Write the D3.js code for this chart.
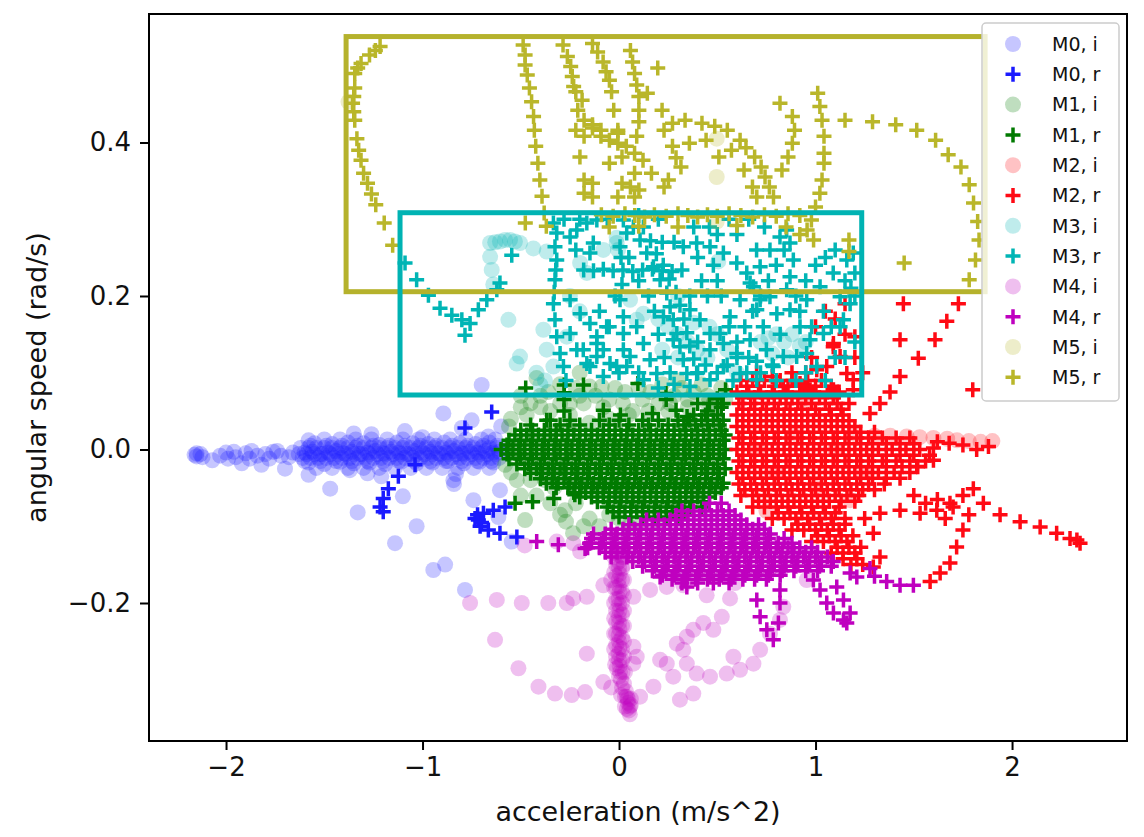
<!DOCTYPE html>
<meta charset="utf-8">
<title>angular speed vs acceleration</title>
<style>
body { margin: 0; background: #fff; }
text { font-family: "DejaVu Sans", sans-serif; fill: #111; }
</style>
<svg width="1144" height="837"></svg>
<script src="https://cdn.jsdelivr.net/npm/d3@7/dist/d3.min.js"></script>
<script>

// ---- data ----
var xTicks = [-2, -1, 0, 1, 2];
var yTicks = [-0.2, 0.0, 0.2, 0.4];
var seriesNames = ["M0, i", "M0, r", "M1, i", "M1, r", "M2, i", "M2, r", "M3, i", "M3, r", "M4, i", "M4, r", "M5, i", "M5, r"];

var m0i = [[-2.16,-0.007],[-2.15,-0.009],[-2.13,-0.006],[-2.07,-0.014],[-2.0,-0.004],[-1.99,-0.012],[-1.96,-0.003],[-1.92,-0.018],[-1.9,-0.005],[-1.87,-0.002],[-1.82,-0.02],[-1.8,-0.006],[-1.76,-0.003],[-1.72,-0.008],[-1.7,-0.025],[-1.66,-0.004],[-1.63,-0.006],
  [-1.60,-0.004],[-1.56,-0.003],[-1.52,-0.006],[-1.48,-0.004],[-1.44,-0.002],[-1.40,-0.005],[-1.36,-0.003],[-1.32,-0.006],[-1.28,-0.004],[-1.24,-0.002],[-1.20,-0.005],[-1.16,-0.003],[-1.12,-0.004],[-1.08,-0.006],[-1.04,-0.002],[-1.00,-0.004],[-0.96,-0.003],[-0.92,-0.005],[-0.88,-0.004],[-0.84,-0.002],[-0.80,-0.005],[-0.76,-0.003],[-0.72,-0.004],[-0.68,-0.002],[-0.64,-0.004],[-0.61,-0.003],
  [-1.58,-0.017],[-1.50,-0.019],[-1.42,-0.016],[-1.35,-0.018],[-1.27,-0.017],[-1.19,-0.019],[-1.11,-0.016],[-1.03,-0.018],[-0.95,-0.017],[-0.87,-0.015],[-0.79,-0.018],[-0.71,-0.016],[-0.64,-0.017],
  [-1.55,0.008],[-1.46,0.007],[-1.38,0.009],[-1.30,0.008],[-1.22,0.006],[-1.13,0.009],[-1.05,0.008],[-0.97,0.007],[-0.89,0.009],[-0.81,0.008],[-0.73,0.007],[-0.66,0.009],
  [-1.58,0.012],[-1.35,0.021],[-1.26,0.02],[-1.09,0.024],[-1.0,0.016],[-0.894,0.047],[-0.75,0.038],[-0.699,0.084],[-0.665,0.017],[-0.8,0.028],[-0.6,0.03],
  [-1.58,-0.033],[-1.47,-0.051],[-1.33,-0.082],[-1.14,-0.122],[-1.10,-0.061],[-1.03,-0.10],[-0.945,-0.157],[-0.885,-0.150],[-0.784,-0.183],[-0.606,-0.053],[-0.741,-0.066],[-0.843,-0.04],[-0.83,-0.032],[-0.546,-0.12],[-0.614,-0.088],[-1.37,-0.027],[-1.28,-0.031],[-1.21,-0.035],[-0.84,-0.045]];

var m0iBand = [[-1.62,0.002],[-1.58,0.002],[-1.54,0.002],[-1.50,0.002],[-1.46,0.002],[-1.42,0.002],[-1.38,0.002],[-1.34,0.002],[-1.30,0.002],[-1.26,0.002],[-1.22,0.002],[-1.18,0.002],[-1.14,0.002],[-1.10,0.002],[-1.06,0.002],[-1.02,0.002],[-0.98,0.002],[-0.94,0.002],[-0.90,0.002],[-0.86,0.002],[-0.82,0.002],[-0.78,0.002],[-0.74,0.002],[-0.70,0.002],[-0.66,0.002],[-0.62,0.002],
  [-1.61,-0.011],[-1.57,-0.011],[-1.53,-0.011],[-1.49,-0.011],[-1.45,-0.011],[-1.41,-0.011],[-1.37,-0.011],[-1.33,-0.011],[-1.29,-0.011],[-1.25,-0.011],[-1.21,-0.011],[-1.17,-0.011],[-1.13,-0.011],[-1.09,-0.011],[-1.05,-0.011],[-1.01,-0.011],[-0.97,-0.011],[-0.93,-0.011],[-0.89,-0.011],[-0.85,-0.011],[-0.81,-0.011],[-0.77,-0.011],[-0.73,-0.011],[-0.69,-0.011],[-0.65,-0.011],[-0.61,-0.011],
  [-1.54,-0.024],[-1.46,-0.024],[-1.38,-0.024],[-1.30,-0.024],[-1.22,-0.024],[-1.14,-0.024],[-1.06,-0.024],[-0.98,-0.024],[-0.90,-0.024],[-0.82,-0.024],[-0.74,-0.024],[-0.66,-0.024],
  [-1.50,0.013],[-1.42,0.013],[-1.34,0.013],[-1.26,0.013],[-1.18,0.013],[-1.10,0.013],[-1.02,0.013],[-0.94,0.013],[-0.86,0.013],[-0.78,0.013],[-0.70,0.013],[-0.63,0.013],
  [-2.15,-0.005],[-2.12,-0.01],[-2.03,-0.008],[-1.95,-0.01],[-1.88,-0.012],[-1.84,-0.008],[-1.78,-0.012],[-1.74,-0.002],[-1.68,-0.01],
  [-1.59,-0.006],[-1.55,-0.006],[-1.51,-0.006],[-1.47,-0.006],[-1.43,-0.006],[-1.39,-0.006],[-1.35,-0.006],[-1.31,-0.006],[-1.27,-0.006],[-1.23,-0.006],[-1.19,-0.006],[-1.15,-0.006],[-1.11,-0.006],[-1.07,-0.006],[-1.03,-0.006],[-0.99,-0.006],[-0.95,-0.006],[-0.91,-0.006],[-0.87,-0.006],[-0.83,-0.006],[-0.79,-0.006],[-0.75,-0.006],[-0.71,-0.006],[-0.67,-0.006],[-0.63,-0.006],
  [-1.60,-0.015],[-1.52,-0.015],[-1.44,-0.015],[-1.36,-0.015],[-1.28,-0.015],[-1.20,-0.015],[-1.12,-0.015],[-1.04,-0.015],[-0.96,-0.015],[-0.88,-0.015],[-0.80,-0.015],[-0.72,-0.015],[-0.65,-0.015],
  [-1.57,0.005],[-1.49,0.005],[-1.41,0.005],[-1.33,0.005],[-1.25,0.005],[-1.17,0.005],[-1.09,0.005],[-1.01,0.005],[-0.93,0.005],[-0.85,0.005],[-0.77,0.005],[-0.69,0.005],[-0.62,0.005]];

var m0r = [[-0.648,0.049],[-0.784,0.028],[-1.038,-0.020],[-1.123,-0.035],[-1.174,-0.051],[-1.20,-0.064],[-1.216,-0.075],[-1.20,-0.081],[-0.716,-0.092],[-0.69,-0.083],[-0.64,-0.079],[-0.58,-0.075],[-0.707,-0.10],[-0.665,-0.105],[-0.606,-0.109],[-0.52,-0.114],[-0.733,-0.09],[-0.72,-0.085],[-0.7,-0.095]];

var m1i = [[-0.55,0.005],[-0.5,-0.01],[-0.45,0.015],[-0.4,-0.02],[-0.35,0.02],[-0.3,-0.03],[-0.25,0.03],[-0.2,-0.04],[-0.15,0.035],[-0.1,-0.05],[-0.05,0.04],[0.0,-0.06],[0.05,0.045],[0.1,-0.07],[0.15,0.05],[0.2,-0.08],[0.25,0.05],[0.3,-0.07],[0.35,0.055],[0.4,-0.06],[0.45,0.06],[0.5,-0.05],
  [-0.5,0.07],[-0.42,0.093],[-0.36,0.075],[-0.3,0.085],[-0.25,0.06],[-0.2,0.07],[-0.15,0.082],[-0.088,0.082],[-0.05,0.065],[0.03,0.075],[0.1,0.08],[0.2,0.06],[0.28,0.07],[0.35,0.065],[0.45,0.07],[0.52,0.08],
  [-0.45,-0.04],[-0.377,-0.04],[-0.478,-0.092],[-0.275,-0.079],[-0.27,-0.094],[-0.234,-0.109],[-0.15,-0.09],[-0.1,-0.1],[0.0,-0.09],[0.1,-0.095],[-0.33,-0.05],[-0.52,-0.04],[-0.56,0.03],[-0.47,0.045],[-0.4,0.055],[-0.2,0.1],[0.3,0.09],
  [-0.55,0.04],[-0.5,0.055],[-0.45,0.06],[-0.4,0.07],[-0.35,0.05],[-0.3,0.06],[-0.25,0.045],[-0.22,0.08],[-0.18,0.06],[-0.12,0.07],[-0.08,0.055],[-0.02,0.08],[0.02,0.06],[0.07,0.05],[0.12,0.065],[0.16,0.075],[0.22,0.085],[0.26,0.06],[0.32,0.08],[0.38,0.075],[0.42,0.085],[0.48,0.06],[0.54,0.065],
  [-0.58,-0.02],[-0.55,-0.03],[-0.5,-0.06],[-0.42,-0.06],[-0.35,-0.07],[-0.3,-0.085],[-0.22,-0.07],[-0.18,-0.1],[-0.05,-0.085],[0.05,-0.1],[0.2,-0.095]];

var m1r = [
  [-0.50,0.025],[-0.44,0.025],[-0.38,0.025],[-0.32,0.025],[-0.26,0.025],[-0.20,0.025],[-0.14,0.025],[-0.08,0.025],[-0.02,0.025],[0.04,0.025],[0.10,0.025],[0.16,0.025],[0.22,0.025],[0.28,0.025],[0.34,0.025],[0.40,0.025],[0.46,0.025],[0.52,0.025],
  [-0.56,0.012],[-0.50,0.012],[-0.44,0.012],[-0.38,0.012],[-0.32,0.012],[-0.26,0.012],[-0.20,0.012],[-0.14,0.012],[-0.08,0.012],[-0.02,0.012],[0.04,0.012],[0.10,0.012],[0.16,0.012],[0.22,0.012],[0.28,0.012],[0.34,0.012],[0.40,0.012],[0.46,0.012],[0.53,0.012],
  [-0.60,0.0],[-0.54,0.0],[-0.48,0.0],[-0.42,0.0],[-0.36,0.0],[-0.30,0.0],[-0.24,0.0],[-0.18,0.0],[-0.12,0.0],[-0.06,0.0],[0.0,0.0],[0.06,0.0],[0.12,0.0],[0.18,0.0],[0.24,0.0],[0.30,0.0],[0.36,0.0],[0.42,0.0],[0.48,0.0],[0.54,0.0],
  [-0.56,-0.012],[-0.50,-0.012],[-0.44,-0.012],[-0.38,-0.012],[-0.32,-0.012],[-0.26,-0.012],[-0.20,-0.012],[-0.14,-0.012],[-0.08,-0.012],[-0.02,-0.012],[0.04,-0.012],[0.10,-0.012],[0.16,-0.012],[0.22,-0.012],[0.28,-0.012],[0.34,-0.012],[0.40,-0.012],[0.46,-0.012],[0.53,-0.012],
  [-0.48,-0.025],[-0.42,-0.025],[-0.36,-0.025],[-0.30,-0.025],[-0.24,-0.025],[-0.18,-0.025],[-0.12,-0.025],[-0.06,-0.025],[0.0,-0.025],[0.06,-0.025],[0.12,-0.025],[0.18,-0.025],[0.24,-0.025],[0.30,-0.025],[0.36,-0.025],[0.42,-0.025],[0.48,-0.025],[0.54,-0.025],
  [-0.40,-0.038],[-0.34,-0.038],[-0.28,-0.038],[-0.22,-0.038],[-0.16,-0.038],[-0.10,-0.038],[-0.04,-0.038],[0.02,-0.038],[0.08,-0.038],[0.14,-0.038],[0.20,-0.038],[0.26,-0.038],[0.32,-0.038],[0.38,-0.038],[0.44,-0.038],[0.50,-0.038],
  [-0.32,-0.05],[-0.26,-0.05],[-0.20,-0.05],[-0.14,-0.05],[-0.08,-0.05],[-0.02,-0.05],[0.04,-0.05],[0.10,-0.05],[0.16,-0.05],[0.22,-0.05],[0.28,-0.05],[0.34,-0.05],[0.40,-0.05],[0.46,-0.05],[0.52,-0.05],
  [-0.20,-0.062],[-0.14,-0.062],[-0.08,-0.062],[-0.02,-0.062],[0.04,-0.062],[0.10,-0.062],[0.16,-0.062],[0.22,-0.062],[0.28,-0.062],[0.34,-0.062],[0.40,-0.062],[0.46,-0.062],
  [-0.06,-0.075],[0.0,-0.075],[0.06,-0.075],[0.12,-0.075],[0.18,-0.075],[0.24,-0.075],[0.30,-0.075],[0.36,-0.075],[0.42,-0.075],
  [0.0,-0.088],[0.06,-0.088],[0.12,-0.088],[0.18,-0.088],[0.24,-0.088],[0.30,-0.088],
  [-0.35,0.038],[-0.25,0.038],[-0.1,0.038],[0.0,0.038],[0.12,0.038],[0.2,0.038],[0.3,0.038],[0.36,0.038],[0.42,0.038],[0.48,0.038],[0.53,0.038],
  [-0.28,0.05],[-0.08,0.051],[0.17,0.047],[0.29,0.051],[0.45,0.05],[0.52,0.055],[-0.28,0.065],[0.24,0.065],[0.5,0.066],
  [-0.475,0.08],[-0.279,0.084],[-0.181,0.084],[-0.279,0.074],[-0.368,0.038],[0.007,0.045],[0.096,0.086],[0.239,0.073],[0.346,0.043],[0.542,0.078],
  [-0.529,-0.07],[-0.44,-0.068],[-0.332,-0.064],[-0.225,-0.059]];

var m1rFill = [
  [-0.53,0.019],[-0.47,0.019],[-0.41,0.019],[-0.35,0.019],[-0.29,0.019],[-0.23,0.019],[-0.17,0.019],[-0.11,0.019],[-0.05,0.019],[0.01,0.019],[0.07,0.019],[0.13,0.019],[0.19,0.019],[0.25,0.019],[0.31,0.019],[0.37,0.019],[0.43,0.019],[0.49,0.019],[0.54,0.019],
  [-0.57,0.006],[-0.51,0.006],[-0.45,0.006],[-0.39,0.006],[-0.33,0.006],[-0.27,0.006],[-0.21,0.006],[-0.15,0.006],[-0.09,0.006],[-0.03,0.006],[0.03,0.006],[0.09,0.006],[0.15,0.006],[0.21,0.006],[0.27,0.006],[0.33,0.006],[0.39,0.006],[0.45,0.006],[0.51,0.006],
  [-0.57,-0.006],[-0.51,-0.006],[-0.45,-0.006],[-0.39,-0.006],[-0.33,-0.006],[-0.27,-0.006],[-0.21,-0.006],[-0.15,-0.006],[-0.09,-0.006],[-0.03,-0.006],[0.03,-0.006],[0.09,-0.006],[0.15,-0.006],[0.21,-0.006],[0.27,-0.006],[0.33,-0.006],[0.39,-0.006],[0.45,-0.006],[0.51,-0.006],
  [-0.52,-0.019],[-0.46,-0.019],[-0.40,-0.019],[-0.34,-0.019],[-0.28,-0.019],[-0.22,-0.019],[-0.16,-0.019],[-0.10,-0.019],[-0.04,-0.019],[0.02,-0.019],[0.08,-0.019],[0.14,-0.019],[0.20,-0.019],[0.26,-0.019],[0.32,-0.019],[0.38,-0.019],[0.44,-0.019],[0.50,-0.019],
  [-0.45,-0.031],[-0.39,-0.031],[-0.33,-0.031],[-0.27,-0.031],[-0.21,-0.031],[-0.15,-0.031],[-0.09,-0.031],[-0.03,-0.031],[0.03,-0.031],[0.09,-0.031],[0.15,-0.031],[0.21,-0.031],[0.27,-0.031],[0.33,-0.031],[0.39,-0.031],[0.45,-0.031],[0.51,-0.031],
  [-0.37,-0.044],[-0.31,-0.044],[-0.25,-0.044],[-0.19,-0.044],[-0.13,-0.044],[-0.07,-0.044],[-0.01,-0.044],[0.05,-0.044],[0.11,-0.044],[0.17,-0.044],[0.23,-0.044],[0.29,-0.044],[0.35,-0.044],[0.41,-0.044],[0.47,-0.044],[0.53,-0.044],
  [-0.23,-0.056],[-0.17,-0.056],[-0.11,-0.056],[-0.05,-0.056],[0.01,-0.056],[0.07,-0.056],[0.13,-0.056],[0.19,-0.056],[0.25,-0.056],[0.31,-0.056],[0.37,-0.056],[0.43,-0.056],[0.49,-0.056],
  [-0.11,-0.068],[-0.05,-0.068],[0.01,-0.068],[0.07,-0.068],[0.13,-0.068],[0.19,-0.068],[0.25,-0.068],[0.31,-0.068],[0.37,-0.068],[0.43,-0.068],
  [-0.03,-0.081],[0.03,-0.081],[0.09,-0.081],[0.15,-0.081],[0.21,-0.081],[0.27,-0.081],[0.33,-0.081],
  [-0.45,0.032],[-0.3,0.032],[-0.2,0.032],[-0.05,0.032],[0.05,0.032],[0.15,0.032],[0.25,0.032],[0.33,0.032],[0.39,0.032],[0.45,0.032],[0.51,0.032],
  [0.38,0.045],[0.44,0.045],[0.5,0.045],[0.4,0.06],[0.46,0.06],[0.53,0.06]];

var m2i = [[1.464,0.017],[1.53,0.016],[1.6,0.015],[1.67,0.014],[1.72,0.012],[1.78,0.011],[1.84,0.01],[1.9,0.011],[1.2,0.02],[1.3,0.018],[1.38,0.018],
  [0.7,0.0],[0.8,-0.03],[0.9,0.02],[1.0,-0.05],[1.1,0.0],[1.25,-0.03],[0.95,0.06],[0.75,-0.08],[1.176,-0.066]];

var m2r = [
  [0.62,0.09],[0.68,0.09],[0.74,0.09],[0.82,0.09],[0.88,0.09],[0.96,0.09],[1.03,0.09],
  [0.60,0.075],[0.66,0.075],[0.72,0.075],[0.78,0.075],[0.85,0.075],[0.92,0.075],[0.99,0.075],[1.06,0.075],[1.12,0.075],
  [0.61,0.06],[0.67,0.06],[0.73,0.06],[0.79,0.06],[0.85,0.06],[0.91,0.06],[0.98,0.06],[1.05,0.06],[1.11,0.06],[1.17,0.06],
  [0.60,0.045],[0.66,0.045],[0.72,0.045],[0.78,0.045],[0.84,0.045],[0.90,0.045],[0.96,0.045],[1.02,0.045],[1.08,0.045],[1.14,0.045],
  [0.60,0.03],[0.66,0.03],[0.72,0.03],[0.78,0.03],[0.84,0.03],[0.90,0.03],[0.96,0.03],[1.02,0.03],[1.08,0.03],[1.14,0.03],[1.20,0.03],
  [0.61,0.015],[0.67,0.015],[0.73,0.015],[0.79,0.015],[0.85,0.015],[0.91,0.015],[0.97,0.015],[1.03,0.015],[1.09,0.015],[1.15,0.015],[1.21,0.015],[1.27,0.015],[1.34,0.015],[1.41,0.015],[1.48,0.015],
  [0.60,0.0],[0.66,0.0],[0.72,0.0],[0.78,0.0],[0.84,0.0],[0.90,0.0],[0.96,0.0],[1.02,0.0],[1.08,0.0],[1.14,0.0],[1.20,0.0],[1.26,0.0],[1.32,0.0],[1.39,0.0],[1.46,0.0],[1.53,0.0],[1.60,0.002],
  [0.61,-0.015],[0.67,-0.015],[0.73,-0.015],[0.79,-0.015],[0.85,-0.015],[0.91,-0.015],[0.97,-0.015],[1.03,-0.015],[1.09,-0.015],[1.15,-0.015],[1.21,-0.015],[1.27,-0.015],[1.34,-0.015],[1.41,-0.015],[1.48,-0.015],[1.56,-0.015],
  [0.60,-0.03],[0.66,-0.03],[0.72,-0.03],[0.78,-0.03],[0.84,-0.03],[0.90,-0.03],[0.96,-0.03],[1.02,-0.03],[1.08,-0.03],[1.14,-0.03],[1.20,-0.03],[1.26,-0.03],[1.32,-0.03],[1.40,-0.03],[1.48,-0.03],
  [0.61,-0.045],[0.67,-0.045],[0.73,-0.045],[0.79,-0.045],[0.85,-0.045],[0.91,-0.045],[0.97,-0.045],[1.03,-0.045],[1.09,-0.045],[1.15,-0.045],[1.21,-0.045],[1.27,-0.045],[1.35,-0.045],
  [0.62,-0.06],[0.68,-0.06],[0.74,-0.06],[0.80,-0.06],[0.86,-0.06],[0.92,-0.06],[0.98,-0.06],[1.04,-0.06],[1.10,-0.06],[1.16,-0.06],[1.22,-0.06],
  [0.68,-0.075],[0.74,-0.075],[0.80,-0.075],[0.86,-0.075],[0.92,-0.075],[0.98,-0.075],[1.04,-0.075],[1.12,-0.075],
  [0.78,-0.09],[0.84,-0.09],[0.90,-0.09],[0.96,-0.09],[1.02,-0.09],[1.08,-0.09],[1.15,-0.09],[1.25,-0.09],
  [0.88,-0.105],[0.94,-0.105],[1.00,-0.105],[1.06,-0.105],[1.12,-0.105],
  [0.98,-0.12],[1.04,-0.12],[1.10,-0.12],[1.16,-0.12],
  [1.08,-0.135],[1.14,-0.135],[1.20,-0.135],[1.18,-0.15],[1.24,-0.15],
  [1.091,0.138],[1.125,0.121],[1.057,0.108],[1.159,0.099],[1.192,0.091],[1.006,0.104],[0.921,0.086],[0.836,0.082],[0.972,0.078],[1.091,0.078],[1.192,0.078],[1.2,0.147],[1.09,0.134],
  [1.0,0.16],[1.05,0.18],[1.1,0.17],[1.15,0.15],[0.98,0.12],[1.2,0.12],[1.24,0.1],[0.95,0.1],[0.88,0.1],[0.78,0.095],[0.7,0.1],[1.15,0.19],
  [1.447,0.19],[1.43,0.143],[1.727,0.19],[1.668,0.167],[1.608,0.143],[1.523,0.119],[1.43,0.095],[1.379,0.075],[1.328,0.06],[1.277,0.047],[1.80,0.078],
  [1.62,0.01],[1.68,0.008],[1.75,0.006],[1.82,0.0],[1.88,0.004],[1.6,-0.014],[1.515,-0.022],
  [1.5,-0.06],[1.56,-0.07],[1.62,-0.065],[1.66,-0.09],[1.7,-0.075],[1.75,-0.06],[1.78,-0.085],[1.803,-0.051],[1.854,-0.07],[1.939,-0.085],
  [2.041,-0.094],[2.143,-0.101],[2.227,-0.109],[2.295,-0.116],[2.33,-0.118],[2.346,-0.122],
  [1.294,-0.109],[1.328,-0.083],[1.43,-0.079],[1.532,-0.083],[1.617,-0.079],[1.684,-0.07],[1.328,-0.14],[1.294,-0.153],
  [1.718,-0.127],[1.684,-0.148],[1.634,-0.161],[1.583,-0.172],[1.75,-0.105]];

var m2rFill = [
  [0.65,0.0825],[0.71,0.0825],[0.79,0.0825],[0.86,0.0825],[0.93,0.0825],[1.0,0.0825],[1.08,0.0825],
  [0.63,0.0675],[0.69,0.0675],[0.76,0.0675],[0.82,0.0675],[0.88,0.0675],[0.95,0.0675],[1.02,0.0675],[1.09,0.0675],
  [0.63,0.0525],[0.69,0.0525],[0.75,0.0525],[0.81,0.0525],[0.87,0.0525],[0.93,0.0525],[1.0,0.0525],[1.07,0.0525],[1.13,0.0525],
  [0.63,0.0375],[0.69,0.0375],[0.75,0.0375],[0.81,0.0375],[0.87,0.0375],[0.93,0.0375],[0.99,0.0375],[1.05,0.0375],[1.11,0.0375],[1.17,0.0375],
  [0.63,0.0225],[0.69,0.0225],[0.75,0.0225],[0.81,0.0225],[0.87,0.0225],[0.93,0.0225],[0.99,0.0225],[1.05,0.0225],[1.11,0.0225],[1.17,0.0225],[1.23,0.0225],[1.3,0.0225],
  [0.63,0.0075],[0.69,0.0075],[0.75,0.0075],[0.81,0.0075],[0.87,0.0075],[0.93,0.0075],[0.99,0.0075],[1.05,0.0075],[1.11,0.0075],[1.17,0.0075],[1.23,0.0075],[1.29,0.0075],[1.36,0.0075],[1.43,0.0075],[1.5,0.0075],
  [0.63,-0.0075],[0.69,-0.0075],[0.75,-0.0075],[0.81,-0.0075],[0.87,-0.0075],[0.93,-0.0075],[0.99,-0.0075],[1.05,-0.0075],[1.11,-0.0075],[1.17,-0.0075],[1.23,-0.0075],[1.29,-0.0075],[1.36,-0.0075],[1.43,-0.0075],[1.5,-0.0075],[1.58,-0.0075],
  [0.63,-0.0225],[0.69,-0.0225],[0.75,-0.0225],[0.81,-0.0225],[0.87,-0.0225],[0.93,-0.0225],[0.99,-0.0225],[1.05,-0.0225],[1.11,-0.0225],[1.17,-0.0225],[1.23,-0.0225],[1.29,-0.0225],[1.36,-0.0225],[1.44,-0.0225],[1.52,-0.0225],
  [0.63,-0.0375],[0.69,-0.0375],[0.75,-0.0375],[0.81,-0.0375],[0.87,-0.0375],[0.93,-0.0375],[0.99,-0.0375],[1.05,-0.0375],[1.11,-0.0375],[1.17,-0.0375],[1.23,-0.0375],[1.29,-0.0375],[1.36,-0.0375],[1.43,-0.0375],
  [0.64,-0.0525],[0.7,-0.0525],[0.76,-0.0525],[0.82,-0.0525],[0.88,-0.0525],[0.94,-0.0525],[1.0,-0.0525],[1.06,-0.0525],[1.12,-0.0525],[1.18,-0.0525],[1.24,-0.0525],[1.3,-0.0525],
  [0.71,-0.0675],[0.77,-0.0675],[0.83,-0.0675],[0.89,-0.0675],[0.95,-0.0675],[1.01,-0.0675],[1.07,-0.0675],[1.13,-0.0675],[1.2,-0.0675],
  [0.81,-0.0825],[0.87,-0.0825],[0.93,-0.0825],[0.99,-0.0825],[1.05,-0.0825],[1.1,-0.0825],
  [0.91,-0.0975],[0.97,-0.0975],[1.03,-0.0975],[1.09,-0.0975],[1.15,-0.0975],
  [1.01,-0.1125],[1.07,-0.1125],[1.13,-0.1125],[1.19,-0.1125],
  [1.11,-0.1275],[1.17,-0.1275],[1.23,-0.1275],[1.14,-0.1425],[1.21,-0.1425]];

var m3i = [[-0.656,0.269],[-0.63,0.27],[-0.606,0.271],[-0.58,0.273],[-0.555,0.273],[-0.53,0.271],[-0.504,0.269],[-0.436,0.262],[-0.368,0.258],[-0.656,0.251],[-0.648,0.234],[-0.64,0.215],
  [-0.563,0.169],[-0.385,0.156],[-0.266,0.147],[-0.368,0.13],[-0.504,0.121],[-0.521,0.112],[-0.334,0.108],[-0.198,0.243],[-0.164,0.23],[-0.08,0.26],[-0.012,0.269],[-0.012,0.276],[-0.005,0.26],
  [0.056,0.195],[0.124,0.177],[0.09,0.169],[-0.377,0.09],[-0.4,0.084],[-0.42,0.1],
  [0.2,0.17],[0.25,0.16],[0.3,0.15],[0.35,0.14],[0.4,0.13],[0.45,0.12],[0.3,0.12],[0.22,0.13],[0.5,0.15],[0.38,0.165],[0.46,0.16],[0.55,0.13],
  [0.72,0.14],[0.76,0.145],[0.8,0.15],[0.84,0.14],[0.88,0.15],[0.92,0.135],[0.95,0.14],[0.78,0.125],[0.86,0.12],[0.505,0.245],[0.6,0.1],[0.3,0.2],[-0.25,0.2],[-0.2,0.18]];

var m3r = [[-1.089,0.243],[-1.03,0.221],[-0.97,0.201],[-0.911,0.184],[-0.851,0.175],[-0.80,0.169],[-0.784,0.149],[-0.758,0.164],[-0.716,0.182],[-0.673,0.195],[-0.622,0.208],[-0.606,0.217],[-0.546,0.253],
  [-0.334,0.295],[-0.317,0.282],[-0.326,0.264],[-0.317,0.247],[-0.322,0.234],[-0.326,0.221],[-0.33,0.205],[-0.334,0.19],[-0.326,0.169],[-0.317,0.147],[-0.30,0.125],[-0.283,0.108],[-0.27,0.09],
  [-0.249,0.277],[-0.215,0.286],[-0.164,0.295],[-0.113,0.299],[-0.131,0.269],[-0.148,0.256],[-0.06,0.3],
  [-0.18,0.234],[-0.13,0.233],[-0.08,0.235],[-0.03,0.233],[0.02,0.234],[0.07,0.232],[0.12,0.234],[0.17,0.235],[0.22,0.233],[0.27,0.232],[0.32,0.234],
  [-0.249,0.195],[-0.198,0.177],[-0.148,0.164],[-0.113,0.147],[-0.08,0.13],[-0.046,0.112],[-0.182,0.13],[-0.164,0.112],[-0.113,0.121],
  [0.022,0.299],[0.039,0.282],[0.005,0.264],[0.01,0.25],[0.015,0.215],[0.005,0.195],[0.022,0.173],[0.022,0.151],[0.022,0.13],[0.039,0.108],
  [0.073,0.29],[0.107,0.273],[0.141,0.256],[0.175,0.238],[0.209,0.221],[0.243,0.204],[0.26,0.186],[0.276,0.169],[0.294,0.151],[0.31,0.134],[0.327,0.117],[0.345,0.099],[0.361,0.082],
  [0.124,0.29],[0.16,0.272],[0.19,0.255],[0.225,0.24],[0.255,0.222],[0.29,0.205],[0.31,0.188],[0.33,0.17],[0.345,0.152],[0.36,0.135],[0.38,0.118],[0.4,0.1],
  [0.327,0.264],[0.395,0.269],[0.463,0.264],[0.531,0.256],[0.599,0.243],[0.65,0.23],[0.684,0.212],[0.718,0.195],
  [0.463,0.13],[0.514,0.151],[0.565,0.173],[0.616,0.195],[0.667,0.217],[0.718,0.238],[0.768,0.26],[0.819,0.277],
  [0.853,0.286],[0.87,0.269],[0.887,0.247],[0.87,0.225],[0.853,0.208],
  [0.955,0.195],[1.023,0.212],[1.09,0.23],[1.159,0.247],[1.192,0.256],[1.125,0.199],[1.142,0.169],[1.176,0.19],[1.2,0.23],
  [0.226,0.173],[0.276,0.143],[0.395,0.099],[0.463,0.091],[0.531,0.108],[0.599,0.125],[0.667,0.143],[0.734,0.16],[0.803,0.177],[0.87,0.182],[0.921,0.16],[0.972,0.143],[1.04,0.151],
  [0.531,0.138],[0.616,0.099],[0.701,0.091],[0.785,0.108],[0.836,0.121],[0.904,0.121],[0.463,0.151],[0.412,0.169],[0.361,0.182],[0.701,0.182],[0.768,0.199],[0.955,0.125],[1.006,0.108],[1.125,0.16],
  [-0.249,0.151],[-0.215,0.13],[-0.148,0.108],[-0.08,0.095],[-0.012,0.108],[0.056,0.121],[0.124,0.138],[0.158,0.117],[0.192,0.099],[0.124,0.091],[-0.113,0.138],[-0.063,0.16],[0.09,0.16],
  [-0.2,0.3],[0.1,0.305],[0.2,0.3],[0.45,0.2],[0.5,0.22],[0.55,0.11],[0.6,0.12],[0.65,0.1],[0.7,0.115],[0.75,0.13],[0.8,0.09],[0.9,0.09],[0.95,0.1],[1.05,0.09],[1.1,0.12],[1.2,0.14],[1.18,0.21],
  [0.15,0.2],[0.18,0.18],[0.2,0.15],[0.23,0.12],[0.26,0.1],[0.42,0.22],[0.48,0.24],[0.52,0.2],[0.56,0.16],[0.6,0.14],[0.64,0.16],[0.68,0.18],[0.72,0.2],[0.76,0.22],[0.8,0.24],[0.84,0.26],
  [0.9,0.2],[0.95,0.22],[1.0,0.24],[1.05,0.25],[1.1,0.26],[1.15,0.22],[1.2,0.2],[0.92,0.18],[0.98,0.16],[1.04,0.18],[1.08,0.16],[1.15,0.12],[0.82,0.15],[0.78,0.11],[0.72,0.1],[0.66,0.12],
  [0.58,0.09],[0.5,0.1],[0.44,0.11],[0.4,0.14],[0.36,0.2],[0.4,0.25],[0.5,0.28],[0.6,0.28],[0.7,0.26],[0.74,0.29],[0.66,0.3],[0.56,0.3],[0.46,0.29],[0.38,0.29],[0.28,0.27],[0.22,0.27],
  [-0.02,0.2],[-0.05,0.16],[-0.1,0.18],[0.05,0.25],[0.1,0.22],[-0.22,0.26],[-0.28,0.3],[0.0,0.1],[0.1,0.1],[0.2,0.08],[0.28,0.085]];

var m4i = [[0.0,-0.13],[0.002,-0.138],[-0.002,-0.146],[0.0,-0.154],[0.003,-0.162],[-0.002,-0.17],[0.0,-0.178],[0.002,-0.186],[-0.002,-0.194],[0.0,-0.202],[0.002,-0.21],[-0.002,-0.218],[0.0,-0.226],[0.002,-0.234],[-0.002,-0.242],[0.0,-0.25],[0.002,-0.258],[-0.002,-0.266],[0.0,-0.274],[0.003,-0.282],[0.005,-0.29],[0.01,-0.3],[0.015,-0.31],[0.03,-0.322],[0.045,-0.33],[0.055,-0.335],[0.06,-0.333],[0.05,-0.34],
  [-0.015,-0.135],[0.015,-0.14],[-0.015,-0.15],[0.015,-0.155],[-0.015,-0.165],[0.015,-0.17],[-0.015,-0.18],[0.015,-0.185],[-0.015,-0.195],[0.015,-0.2],[-0.015,-0.21],[0.015,-0.215],[-0.015,-0.225],[0.015,-0.23],[-0.015,-0.24],[0.015,-0.245],[-0.015,-0.255],[0.015,-0.26],[-0.015,-0.27],[0.015,-0.275],[-0.012,-0.285],[0.018,-0.29],[0.0,-0.296],[0.025,-0.305],[0.035,-0.315],[0.045,-0.325],[0.04,-0.338],[0.06,-0.325],
  [-0.025,-0.14],[0.025,-0.15],[-0.025,-0.16],[0.025,-0.17],[-0.025,-0.18],[0.025,-0.19],[-0.025,-0.2],[0.025,-0.21],[-0.025,-0.22],[0.025,-0.23],[-0.025,-0.24],[0.025,-0.25],[-0.025,-0.26],[0.025,-0.27],[-0.02,-0.28],[0.03,-0.29],[0.01,-0.32],[0.03,-0.335],[0.055,-0.345],
  [-0.758,-0.2],[-0.622,-0.196],[-0.495,-0.2],[-0.36,-0.2],[-0.266,-0.2],[-0.233,-0.194],[-0.164,-0.192],[-0.08,-0.177],[-0.04,-0.17],[-0.631,-0.248],[-0.512,-0.285],[-0.41,-0.309],[-0.326,-0.318],[-0.241,-0.32],[-0.173,-0.316],[-0.164,-0.266],[-0.08,-0.303],[-0.04,-0.31],
  [0.073,-0.192],[0.158,-0.183],[0.243,-0.179],[0.327,-0.177],[0.446,-0.19],[0.565,-0.194],[0.59,-0.174],[0.523,-0.218],[0.48,-0.235],[0.378,-0.235],[0.345,-0.244],[0.327,-0.261],[0.345,-0.279],[0.395,-0.292],[0.463,-0.296],[0.548,-0.292],[0.616,-0.287],[0.684,-0.279],[0.718,-0.261],[0.768,-0.24],[0.819,-0.222],[0.836,-0.205],[0.955,-0.17],
  [0.582,-0.27],[0.429,-0.226],[0.294,-0.253],[0.243,-0.279],[0.276,-0.296],[0.175,-0.309],[0.107,-0.322],[0.209,-0.274],[0.31,-0.326],[0.378,-0.318],[0.09,-0.27],[0.073,-0.257],[0.073,-0.279],[0.039,-0.322],
  [-0.317,-0.12],[-0.233,-0.122],[-0.198,-0.133],[-0.48,-0.125]];

var m4r = [
  [0.46,-0.07],[0.52,-0.07],
  [0.32,-0.08],[0.38,-0.08],[0.44,-0.08],[0.50,-0.08],[0.56,-0.08],
  [0.14,-0.092],[0.20,-0.092],[0.26,-0.092],[0.32,-0.092],[0.38,-0.092],[0.44,-0.092],[0.50,-0.092],[0.56,-0.092],[0.62,-0.092],
  [-0.04,-0.104],[0.02,-0.104],[0.08,-0.104],[0.14,-0.104],[0.20,-0.104],[0.26,-0.104],[0.32,-0.104],[0.38,-0.104],[0.44,-0.104],[0.50,-0.104],[0.56,-0.104],[0.62,-0.104],[0.68,-0.104],[0.74,-0.104],
  [-0.14,-0.116],[-0.08,-0.116],[-0.02,-0.116],[0.04,-0.116],[0.10,-0.116],[0.16,-0.116],[0.22,-0.116],[0.28,-0.116],[0.34,-0.116],[0.40,-0.116],[0.46,-0.116],[0.52,-0.116],[0.58,-0.116],[0.64,-0.116],[0.70,-0.116],[0.76,-0.116],[0.84,-0.116],
  [-0.16,-0.128],[-0.10,-0.128],[-0.04,-0.128],[0.02,-0.128],[0.08,-0.128],[0.14,-0.128],[0.20,-0.128],[0.26,-0.128],[0.32,-0.128],[0.38,-0.128],[0.44,-0.128],[0.50,-0.128],[0.56,-0.128],[0.62,-0.128],[0.68,-0.128],[0.74,-0.128],[0.80,-0.128],[0.86,-0.128],[0.92,-0.128],[0.98,-0.128],
  [-0.04,-0.14],[0.04,-0.14],[0.10,-0.14],[0.16,-0.14],[0.22,-0.14],[0.28,-0.14],[0.34,-0.14],[0.40,-0.14],[0.46,-0.14],[0.52,-0.14],[0.58,-0.14],[0.64,-0.14],[0.70,-0.14],[0.76,-0.14],[0.82,-0.14],[0.88,-0.14],[0.94,-0.14],[1.00,-0.14],[1.06,-0.14],
  [0.12,-0.152],[0.18,-0.152],[0.24,-0.152],[0.30,-0.152],[0.36,-0.152],[0.42,-0.152],[0.48,-0.152],[0.54,-0.152],[0.60,-0.152],[0.66,-0.152],[0.72,-0.152],[0.78,-0.152],[0.84,-0.152],[0.90,-0.152],[0.96,-0.152],[1.02,-0.152],[1.08,-0.152],
  [0.22,-0.164],[0.28,-0.164],[0.34,-0.164],[0.40,-0.164],[0.46,-0.164],[0.52,-0.164],[0.58,-0.164],[0.64,-0.164],[0.70,-0.164],[0.76,-0.164],[0.82,-0.164],
  [0.32,-0.174],[0.40,-0.174],[0.48,-0.174],[0.56,-0.174],
  [-0.419,-0.12],[-0.309,-0.124],[-0.173,-0.129],
  [0.701,-0.196],[0.718,-0.218],[0.752,-0.235],[0.785,-0.248],[0.811,-0.226],[0.819,-0.2],[0.819,-0.183],[0.209,-0.166],[0.345,-0.179],
  [0.989,-0.17],[1.023,-0.183],[1.057,-0.2],[1.091,-0.213],[1.142,-0.222],[1.159,-0.226],[1.176,-0.213],[1.142,-0.196],[1.108,-0.179],[1.21,-0.166],[1.277,-0.155],
  [1.176,-0.161],[1.3,-0.165],[1.362,-0.172],[1.43,-0.177],[1.498,-0.177]];

var m4rFill = [
  [0.29,-0.086],[0.35,-0.086],[0.41,-0.086],[0.47,-0.086],[0.53,-0.086],[0.59,-0.086],
  [0.05,-0.098],[0.11,-0.098],[0.17,-0.098],[0.23,-0.098],[0.29,-0.098],[0.35,-0.098],[0.41,-0.098],[0.47,-0.098],[0.53,-0.098],[0.59,-0.098],[0.65,-0.098],[0.71,-0.098],
  [-0.13,-0.11],[-0.07,-0.11],[-0.01,-0.11],[0.05,-0.11],[0.11,-0.11],[0.17,-0.11],[0.23,-0.11],[0.29,-0.11],[0.35,-0.11],[0.41,-0.11],[0.47,-0.11],[0.53,-0.11],[0.59,-0.11],[0.65,-0.11],[0.71,-0.11],[0.77,-0.11],
  [-0.15,-0.122],[-0.09,-0.122],[-0.03,-0.122],[0.03,-0.122],[0.09,-0.122],[0.15,-0.122],[0.21,-0.122],[0.27,-0.122],[0.33,-0.122],[0.39,-0.122],[0.45,-0.122],[0.51,-0.122],[0.57,-0.122],[0.63,-0.122],[0.69,-0.122],[0.75,-0.122],[0.81,-0.122],[0.88,-0.122],
  [-0.07,-0.134],[-0.01,-0.134],[0.05,-0.134],[0.11,-0.134],[0.17,-0.134],[0.23,-0.134],[0.29,-0.134],[0.35,-0.134],[0.41,-0.134],[0.47,-0.134],[0.53,-0.134],[0.59,-0.134],[0.65,-0.134],[0.71,-0.134],[0.77,-0.134],[0.83,-0.134],[0.89,-0.134],[0.95,-0.134],[1.01,-0.134],
  [0.07,-0.146],[0.13,-0.146],[0.19,-0.146],[0.25,-0.146],[0.31,-0.146],[0.37,-0.146],[0.43,-0.146],[0.49,-0.146],[0.55,-0.146],[0.61,-0.146],[0.67,-0.146],[0.73,-0.146],[0.79,-0.146],[0.85,-0.146],[0.91,-0.146],[0.97,-0.146],[1.03,-0.146],[1.09,-0.146],
  [0.17,-0.158],[0.23,-0.158],[0.29,-0.158],[0.35,-0.158],[0.41,-0.158],[0.47,-0.158],[0.53,-0.158],[0.59,-0.158],[0.65,-0.158],[0.71,-0.158],[0.77,-0.158],[0.83,-0.158],[0.89,-0.158],[0.95,-0.158],[1.01,-0.158],
  [0.27,-0.169],[0.33,-0.169],[0.39,-0.169],[0.45,-0.169],[0.51,-0.169],[0.57,-0.169],[0.63,-0.169],[0.69,-0.169],[0.75,-0.169]];

var m5i = [[0.497,0.405],[0.497,0.355],[0.497,0.297],[-1.377,0.453]];

var m5r = [[-1.216,0.525],[-1.24,0.52],[-1.27,0.514],[-1.313,0.503],[-1.33,0.497],[-1.345,0.49],[-1.345,0.471],[-1.35,0.46],[-1.356,0.451],[-1.35,0.44],[-1.345,0.429],[-1.334,0.405],[-1.325,0.39],[-1.313,0.377],[-1.30,0.36],[-1.28,0.347],[-1.26,0.333],[-1.238,0.319],[-1.195,0.295],[-1.152,0.266],
  [-0.488,0.527],[-0.478,0.514],[-0.478,0.501],[-0.467,0.488],[-0.456,0.471],[-0.445,0.453],[-0.435,0.434],[-0.431,0.416],[-0.424,0.395],[-0.413,0.373],[-0.403,0.351],[-0.392,0.33],[-0.381,0.308],[-0.37,0.291],[-0.477,0.295],
  [-0.285,0.527],[-0.263,0.512],[-0.246,0.499],[-0.238,0.486],[-0.231,0.473],[-0.22,0.466],[-0.188,0.455],[-0.21,0.442],[-0.178,0.429],[-0.135,0.419],[-0.092,0.408],
  [-0.135,0.529],[-0.109,0.518],[-0.081,0.505],[-0.066,0.492],[-0.049,0.481],[-0.038,0.466],[-0.027,0.442],[-0.006,0.416],[-0.006,0.399],[0.015,0.381],
  [0.058,0.52],[0.069,0.505],[0.079,0.49],[0.09,0.475],[0.101,0.46],[0.101,0.442],[0.101,0.427],[0.09,0.408],
  [0.197,0.497],[0.144,0.464],[0.219,0.442],
  [0.229,0.416],[0.272,0.425],[0.336,0.429],[0.422,0.425],[0.487,0.421],[0.551,0.416],[0.616,0.403],[0.646,0.393],[0.69,0.381],[0.723,0.368],[0.743,0.355],[0.765,0.342],[0.786,0.329],[0.272,0.395],[0.29,0.38],
  [-0.22,0.416],[-0.178,0.408],[-0.135,0.423],[-0.092,0.416],[-0.049,0.403],[-0.006,0.412],[0.037,0.395],[0.079,0.386],[0.122,0.377],[0.165,0.36],[0.079,0.36],[0.058,0.342],[0.015,0.347],[-0.135,0.347],[-0.178,0.334],[-0.135,0.329],[-0.006,0.329],[0.079,0.329],[-0.049,0.373],[-0.199,0.381],[-0.178,0.351],[0.101,0.338],
  [0.229,0.342],[0.251,0.351],[0.315,0.368],[0.358,0.399],[0.443,0.403],[0.508,0.381],[0.572,0.39],[0.636,0.364],[0.679,0.342],[0.701,0.329],
  [1.011,0.464],[1.022,0.447],[1.033,0.429],[1.043,0.408],[1.043,0.386],[1.043,0.373],[1.033,0.351],[1.022,0.334],[1.0,0.316],[0.979,0.299],[0.957,0.286],
  [0.819,0.451],[0.882,0.434],[0.893,0.416],[0.882,0.399],[0.86,0.381],[0.829,0.364],
  [1.15,0.429],[1.29,0.427],[1.408,0.423],[1.515,0.416],[1.611,0.403],[1.675,0.384],[1.74,0.368],[1.782,0.345],[1.804,0.321],[1.825,0.297],[1.832,0.273],[1.814,0.247],[1.782,0.221],
  [1.451,0.243],[0.99,0.273],[1.17,0.273],[1.17,0.258],
  [-0.09,0.306],[-0.03,0.304],[0.03,0.307],[0.08,0.305],[0.13,0.303],[0.18,0.306],[0.24,0.304],[0.3,0.307],[0.35,0.305],[0.4,0.303],[0.45,0.306],[0.5,0.304],[0.56,0.307],[0.62,0.305],[0.68,0.303],[0.74,0.306],[0.8,0.304],[0.86,0.307],[0.92,0.305],
  [-0.05,0.29],[0.1,0.291],[0.3,0.29],[0.6,0.292],[0.85,0.29],[0.92,0.28]];

// annotation boxes: [x0, x1, y0, y1]
var oliveBox = [-1.389, 1.863, 0.2056, 0.538];
var cyanBox = [-1.1145, 1.235, 0.071, 0.3085];

var colors = ["#1a1aff", "#1a1aff", "#007a00", "#007a00", "#ff0a14", "#ff0a14", "#00b5b5", "#00b5b5", "#bf00bf", "#bf00bf", "#b9b62a", "#b9b62a"];
var seriesData = [m0i.concat(m0iBand), m0r, m1i, m1r.concat(m1rFill), m2i, m2r.concat(m2rFill), m3i, m3r, m4i, m4r.concat(m4rFill), m5i, m5r];

// ---- chart ----
var svg = d3.select("svg");
var x = d3.scaleLinear().domain([-2.392, 2.585]).range([149, 1127]);
var y = d3.scaleLinear().domain([-0.3798, 0.5674]).range([741, 14]);
var plus = "M-7.5,0H7.5M0,-7.5V7.5";

var plot = svg.append("g");

seriesData.forEach(function(data, i) {
  var isCircle = seriesNames[i].slice(-1) == "i";
  var g = plot.append("g");
  if (isCircle) {
    g.selectAll("circle").data(data).enter().append("circle")
      .attr("cx", function(d) { return x(d[0]); })
      .attr("cy", function(d) { return y(d[1]); })
      .attr("r", 8)
      .attr("fill", colors[i])
      .attr("fill-opacity", 0.25);
  } else {
    g.selectAll("path").data(data).enter().append("path")
      .attr("d", plus)
      .attr("transform", function(d) { return "translate(" + x(d[0]) + "," + y(d[1]) + ")"; })
      .attr("stroke", colors[i])
      .attr("stroke-width", 3.5)
      .attr("fill", "none");
  }
});

// annotation rectangles
[[oliveBox, "#b5b22c"], [cyanBox, "#00b3b3"]].forEach(function(b) {
  var r = b[0];
  svg.append("rect")
    .attr("x", x(r[0])).attr("y", y(r[3]))
    .attr("width", x(r[1]) - x(r[0]))
    .attr("height", y(r[2]) - y(r[3]))
    .attr("fill", "none")
    .attr("stroke", b[1])
    .attr("stroke-width", 5);
});

// axes
var fmtMinus = function(s) { return s.replace("-", "\u2212"); };
var xAxis = svg.append("g").attr("transform", "translate(0,741)")
  .call(d3.axisBottom(x).tickValues(xTicks).tickSize(9).tickPadding(8)
    .tickFormat(function(d) { return fmtMinus(d3.format("d")(d)); }));
var yAxis = svg.append("g").attr("transform", "translate(149,0)")
  .call(d3.axisLeft(y).tickValues(yTicks).tickSize(9).tickPadding(9)
    .tickFormat(function(d) { return fmtMinus(d3.format(".1f")(d)); }));
[xAxis, yAxis].forEach(function(a) {
  a.select(".domain").remove();
  a.selectAll("line").attr("stroke", "#000").attr("stroke-width", 2);
  a.selectAll("text").attr("font-size", 26).attr("font-family", "DejaVu Sans").attr("fill", "#111");
});

// frame
svg.append("rect").attr("x", 149).attr("y", 14).attr("width", 978).attr("height", 727)
  .attr("fill", "none").attr("stroke", "#000").attr("stroke-width", 2);

svg.append("text").attr("x", 638).attr("y", 821).attr("text-anchor", "middle")
  .attr("font-size", 27).text("acceleration (m/s^2)");
svg.append("text").attr("transform", "translate(46,377.5) rotate(-90)").attr("text-anchor", "middle")
  .attr("font-size", 27).text("angular speed (rad/s)");

// legend
var lg = svg.append("g");
lg.append("rect").attr("x", 982).attr("y", 23).attr("width", 137).attr("height", 378).attr("rx", 4)
  .attr("fill", "#fff").attr("fill-opacity", 0.8).attr("stroke", "#cccccc").attr("stroke-width", 1.5);
seriesNames.forEach(function(name, i) {
  var cy = 44 + i * 30.3;
  if (name.slice(-1) == "i") {
    lg.append("circle").attr("cx", 1013).attr("cy", cy).attr("r", 8)
      .attr("fill", colors[i]).attr("fill-opacity", 0.25);
  } else {
    lg.append("path").attr("d", plus).attr("transform", "translate(1013," + cy + ")")
      .attr("stroke", colors[i]).attr("stroke-width", 3.5);
  }
  lg.append("text").attr("x", 1052).attr("y", cy).attr("dy", "0.36em")
    .attr("font-size", 19).text(name);
});

</script>
